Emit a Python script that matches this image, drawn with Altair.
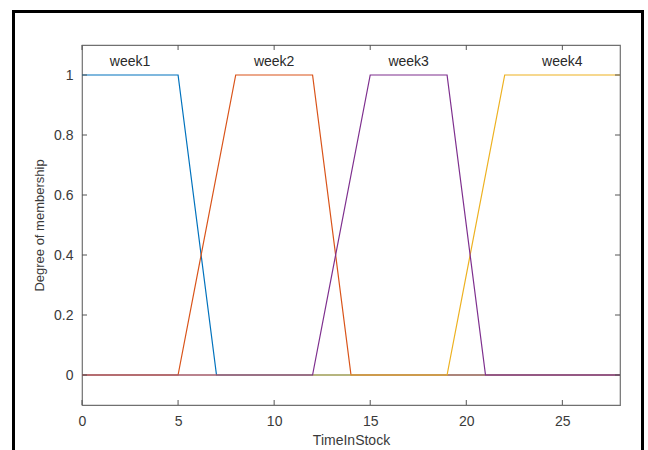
import altair as alt
import pandas as pd

# membership function breakpoints
names = ["week1", "week2", "week3", "week4"]
w1_x = [0, 5, 7, 28]
w1_y = [1, 1, 0, 0]
w2_x = [0, 5, 8, 12, 14, 28]
w2_y = [0, 0, 1, 1, 0, 0]
w3_x = [0, 12, 15, 19, 21, 28]
w3_y = [0, 0, 1, 1, 0, 0]
w4_x = [0, 19, 22, 28]
w4_y = [0, 0, 1, 1]
label_x = [2.5, 10, 17, 25]
label_y = [1.045, 1.045, 1.045, 1.045]
x_ticks = [0, 5, 10, 15, 20, 25]
y_ticks = [0, 0.2, 0.4, 0.6, 0.8, 1]
colors = {"week1": "#0072BD", "week2": "#D95319", "week3": "#7E2F8E", "week4": "#EDB120"}

W, H = 538, 360
xs = alt.Scale(domain=[0, 28], nice=False, zero=False)
ys = alt.Scale(domain=[-0.1, 1.1], nice=False, zero=False)

FONT = "Liberation Sans"
TXT = "#3a3a3a"

def series(name, xv, yv):
    df = pd.DataFrame({"x": xv, "y": yv})
    return alt.Chart(df).mark_line(strokeWidth=1.2, color=colors[name], clip=True).encode(
        x=alt.X("x:Q", scale=xs, title="TimeInStock",
                axis=alt.Axis(values=x_ticks, domain=False, ticks=False, grid=False,
                              labelFlush=False, format="~g",
                              labelPadding=9, labelFontSize=14, labelColor=TXT,
                              titleFontSize=14, titleFontWeight="normal", titleColor=TXT,
                              titlePadding=5, labelFont=FONT, titleFont=FONT)),
        y=alt.Y("y:Q", scale=ys, title="Degree of membership",
                axis=alt.Axis(values=y_ticks, domain=False, ticks=False, grid=False,
                              labelFlush=False, format="~g",
                              labelPadding=9, labelFontSize=14, labelColor=TXT,
                              titleFontSize=13, titleFontWeight="normal", titleColor=TXT,
                              titlePadding=7, labelFont=FONT, titleFont=FONT)),
    )

lines = [
    series("week1", w1_x, w1_y),
    series("week2", w2_x, w2_y),
    series("week4", w4_x, w4_y),
    series("week3", w3_x, w3_y),
]

lab_df = pd.DataFrame({"name": names, "x": label_x, "y": label_y})
labels = alt.Chart(lab_df).mark_text(fontSize=14, color="#2a2a2a", font=FONT).encode(
    x=alt.X("x:Q", scale=xs), y=alt.Y("y:Q", scale=ys), text="name:N")

xt = pd.DataFrame({"v": x_ticks})
yt = pd.DataFrame({"v": y_ticks})
tick_color = "#555555"
bottom_ticks = alt.Chart(xt).mark_rule(color=tick_color, strokeWidth=1).encode(
    x=alt.X("v:Q", scale=xs), y=alt.value(H), y2=alt.value(H - 5))
top_ticks = alt.Chart(xt).mark_rule(color=tick_color, strokeWidth=1).encode(
    x=alt.X("v:Q", scale=xs), y=alt.value(0), y2=alt.value(5))
left_ticks = alt.Chart(yt).mark_rule(color=tick_color, strokeWidth=1).encode(
    y=alt.Y("v:Q", scale=ys), x=alt.value(0), x2=alt.value(5))
right_ticks = alt.Chart(yt).mark_rule(color=tick_color, strokeWidth=1).encode(
    y=alt.Y("v:Q", scale=ys), x=alt.value(W), x2=alt.value(W - 5))

frame_df = pd.DataFrame({"a": [0]})
frame = alt.Chart(frame_df).mark_rect(fill=None, stroke="#000000", strokeWidth=3, clip=False).encode(
    x=alt.value(13.5 - 82), x2=alt.value(642.5 - 82), y=alt.value(11.5 - 45), y2=alt.value(470 - 45))

chart = alt.layer(
    *lines, labels, bottom_ticks, top_ticks, left_ticks, right_ticks, frame
).properties(
    width=W, height=H,
    autosize=alt.AutoSizeParams(type="none"),
    padding={"left": 82, "top": 45, "right": 28, "bottom": 45},
    background="white",
).configure_view(stroke="#707070", strokeWidth=1.2)

chart.save("out.html", embed_options={"renderer": "svg", "actions": False})
